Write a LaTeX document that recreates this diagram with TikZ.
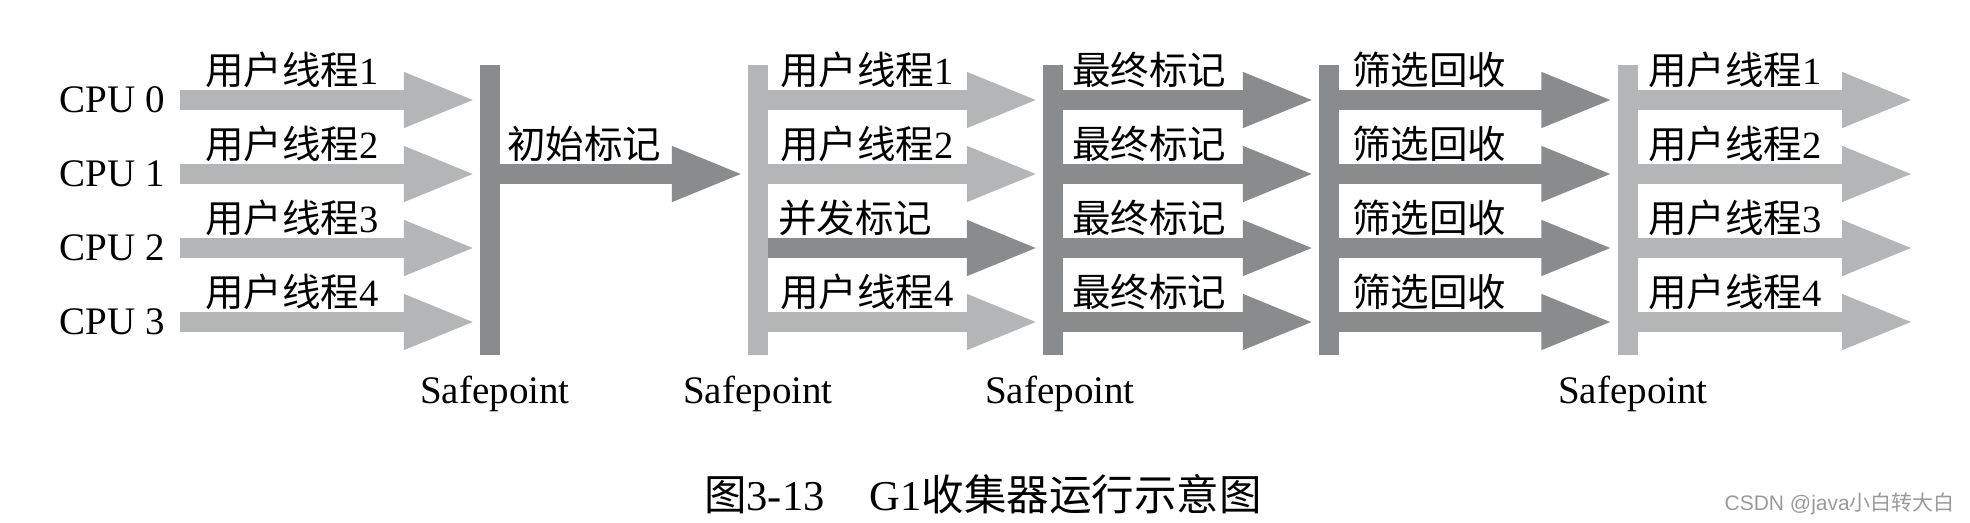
\documentclass[tikz,border=0pt]{standalone}
\usepackage{fontspec}
\setmainfont{Liberation Serif}
\newfontfamily\cjk{Noto Sans CJK SC}
\newfontfamily\wmsans{Liberation Sans}
\usetikzlibrary{arrows.meta}
\definecolor{lightg}{HTML}{B4B5B7}
\definecolor{darkg}{HTML}{8A8B8D}
\definecolor{wmgray}{HTML}{9A9A9A}
\tikzset{
  bar/.style={fill=#1, draw=none, inner sep=0pt, minimum width=20pt, minimum height=290pt},
  flow/.style={draw=#1, line width=20pt, -{Triangle[length=73pt,width=50pt]}, shorten >=3pt},
  lbl/.style={anchor=base west, inner sep=0pt, font=\fontsize{38.5}{40}\selectfont},
  cpulbl/.style={anchor=base east, inner sep=0pt, font=\fontsize{39}{41}\selectfont},
  sp/.style={anchor=base, inner sep=0pt, font=\fontsize{39}{41}\selectfont},
}
\begin{document}
\begin{tikzpicture}[x=1pt,y=-1pt]
\useasboundingbox (0,0) rectangle (1970,522);
% rows
\coordinate (r1) at (0,100);
\coordinate (r2) at (0,174);
\coordinate (r3) at (0,248);
\coordinate (r4) at (0,322);
% bars (safepoints)
\node[bar=darkg]  (b1) at (490,210) {};
\node[bar=lightg] (b2) at (758,210) {};
\node[bar=darkg]  (b3) at (1053,210) {};
\node[bar=darkg]  (b4) at (1329,210) {};
\node[bar=lightg] (b5) at (1627.5,210) {};
% CPU labels
\node[cpulbl] (cpu0) at (165,112.5) {CPU 0};
\node[cpulbl] (cpu1) at (165,186.5) {CPU 1};
\node[cpulbl] (cpu2) at (165,260.5) {CPU 2};
\node[cpulbl] (cpu3) at (165,334.5) {CPU 3};
% end points of last arrows
\coordinate (e1) at (1918,100);
\coordinate (e2) at (1918,174);
\coordinate (e3) at (1918,248);
\coordinate (e4) at (1918,322);
% phase 0: user threads
\draw[flow=lightg, shorten <=15pt] (cpu0.east |- r1) -- (b1.west |- r1);
\draw[flow=lightg, shorten <=15pt] (cpu1.east |- r2) -- (b1.west |- r2);
\draw[flow=lightg, shorten <=15pt] (cpu2.east |- r3) -- (b1.west |- r3);
\draw[flow=lightg, shorten <=15pt] (cpu3.east |- r4) -- (b1.west |- r4);
\node[lbl] (u01) at (205,84) {{\cjk 用户线程}1};
\node[lbl] (u02) at (205,158) {{\cjk 用户线程}2};
\node[lbl] (u03) at (205,232) {{\cjk 用户线程}3};
\node[lbl] (u04) at (205,306) {{\cjk 用户线程}4};
% phase 1: initial mark
\draw[flow=darkg] (b1.east |- r2) -- (b2.west |- r2);
\node[lbl] (im) at (507,158) {\cjk 初始标记};
% phase 2: concurrent mark
\draw[flow=lightg] (b2.east |- r1) -- (b3.west |- r1);
\draw[flow=lightg] (b2.east |- r2) -- (b3.west |- r2);
\draw[flow=darkg]  (b2.east |- r3) -- (b3.west |- r3);
\draw[flow=lightg] (b2.east |- r4) -- (b3.west |- r4);
\node[lbl] (u11) at (780,84) {{\cjk 用户线程}1};
\node[lbl] (u12) at (780,158) {{\cjk 用户线程}2};
\node[lbl] (cm)  at (778,232) {\cjk 并发标记};
\node[lbl] (u14) at (780,306) {{\cjk 用户线程}4};
% phase 3: final mark
\draw[flow=darkg] (b3.east |- r1) -- (b4.west |- r1);
\draw[flow=darkg] (b3.east |- r2) -- (b4.west |- r2);
\draw[flow=darkg] (b3.east |- r3) -- (b4.west |- r3);
\draw[flow=darkg] (b3.east |- r4) -- (b4.west |- r4);
\node[lbl] (f1) at (1072,84) {\cjk 最终标记};
\node[lbl] (f2) at (1072,158) {\cjk 最终标记};
\node[lbl] (f3) at (1072,232) {\cjk 最终标记};
\node[lbl] (f4) at (1072,306) {\cjk 最终标记};
% phase 4: live data counting and evacuation
\draw[flow=darkg] (b4.east |- r1) -- (b5.west |- r1);
\draw[flow=darkg] (b4.east |- r2) -- (b5.west |- r2);
\draw[flow=darkg] (b4.east |- r3) -- (b5.west |- r3);
\draw[flow=darkg] (b4.east |- r4) -- (b5.west |- r4);
\node[lbl] (s1) at (1352,84) {\cjk 筛选回收};
\node[lbl] (s2) at (1352,158) {\cjk 筛选回收};
\node[lbl] (s3) at (1352,232) {\cjk 筛选回收};
\node[lbl] (s4) at (1352,306) {\cjk 筛选回收};
% phase 5: user threads
\draw[flow=lightg] (b5.east |- r1) -- (e1);
\draw[flow=lightg] (b5.east |- r2) -- (e2);
\draw[flow=lightg] (b5.east |- r3) -- (e3);
\draw[flow=lightg] (b5.east |- r4) -- (e4);
\node[lbl] (u51) at (1648,84) {{\cjk 用户线程}1};
\node[lbl] (u52) at (1648,158) {{\cjk 用户线程}2};
\node[lbl] (u53) at (1648,232) {{\cjk 用户线程}3};
\node[lbl] (u54) at (1648,306) {{\cjk 用户线程}4};
% safepoint labels
\node[sp] (sp1) at (495,403) {Safepoint};
\node[sp] (sp2) at (758,403) {Safepoint};
\node[sp] (sp3) at (1060,403) {Safepoint};
\node[sp] (sp4) at (1633,403) {Safepoint};
% caption
\node[anchor=base west, inner sep=0pt, font=\fontsize{42.5}{44}\selectfont] (cap) at (704,510)
  {{\cjk 图}3-13\hspace{45pt}G1{\cjk 收集器运行示意图}};
% watermark
\node[anchor=base east, inner sep=0pt, text=wmgray, font=\fontsize{21}{23}\selectfont\wmsans] (wm) at (1955,510)
  {CSDN @java{\cjk 小白转大白}};
\end{tikzpicture}
\end{document}
